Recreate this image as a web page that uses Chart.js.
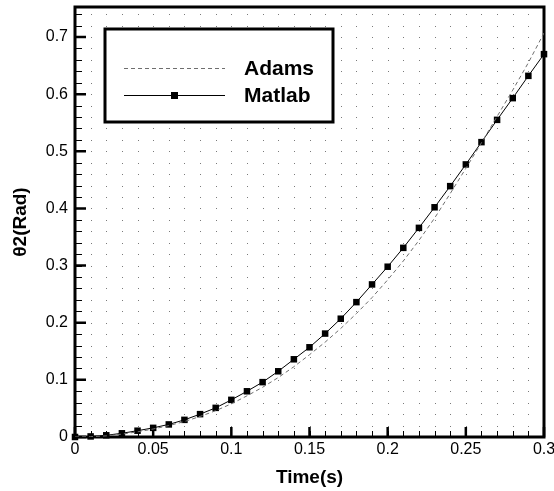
<!DOCTYPE html>
<html>
<head>
<meta charset="utf-8">
<script src="https://cdn.jsdelivr.net/npm/chart.js@4.4.1/dist/chart.umd.min.js"></script>
<style>
html, body { margin: 0; padding: 0; background: #fff; }
#wrap { width: 554px; height: 491px; }
</style>
</head>
<body>
<div id="wrap"><canvas id="c"></canvas></div>
<script>
// time samples (s)
const times = [0, 0.01, 0.02, 0.03, 0.04, 0.05, 0.06, 0.07, 0.08, 0.09, 0.1,
  0.11, 0.12, 0.13, 0.14, 0.15, 0.16, 0.17, 0.18, 0.19, 0.2,
  0.21, 0.22, 0.23, 0.24, 0.25, 0.26, 0.27, 0.28, 0.29, 0.3];
const matlab = [0, 0.001, 0.003, 0.0065, 0.011, 0.016, 0.022, 0.030, 0.040, 0.051, 0.065,
  0.080, 0.096, 0.115, 0.136, 0.157, 0.181, 0.207, 0.236, 0.267, 0.298,
  0.331, 0.366, 0.402, 0.439, 0.477, 0.516, 0.555, 0.593, 0.632, 0.670];
const adams = [0, 0.0005, 0.002, 0.005, 0.009, 0.014, 0.020, 0.027, 0.036, 0.046, 0.058,
  0.072, 0.087, 0.104, 0.123, 0.144, 0.166, 0.190, 0.216, 0.244, 0.275,
  0.308, 0.344, 0.383, 0.426, 0.470, 0.515, 0.561, 0.607, 0.655, 0.707];
const xTicks = [0, 0.05, 0.1, 0.15, 0.2, 0.25, 0.3];
const yTicks = [0, 0.1, 0.2, 0.3, 0.4, 0.5, 0.6, 0.7];
const xMinorStep = 0.01;
const yMinorStep = 0.02;

const FONT = "'Liberation Sans', Arial, sans-serif";

function toPoints(ys) {
    return times.map((t, i) => ({ x: t, y: ys[i] }));
}

// dotted grid, inward ticks and the heavy frame
const framePlugin = {
    id: 'frame',
    beforeDatasetsDraw(chart) {
        const { ctx, chartArea: a, scales: { x, y } } = chart;
        ctx.save();
        ctx.fillStyle = '#7a7a7a';
        for (let i = 1; i * xMinorStep < x.max - 1e-9; i++) {
            const px = Math.round(x.getPixelForValue(i * xMinorStep));
            for (let j = 1; j * yMinorStep < y.max; j++) {
                const py = Math.round(y.getPixelForValue(j * yMinorStep));
                if (py <= a.top + 2) continue;
                ctx.fillRect(px, py, 1, 1);
            }
        }
        ctx.strokeStyle = '#000';
        // x minor ticks
        ctx.lineWidth = 1;
        ctx.beginPath();
        for (let i = 1; i * xMinorStep < x.max - 1e-9; i++) {
            const px = Math.round(x.getPixelForValue(i * xMinorStep)) + 0.5;
            ctx.moveTo(px, a.bottom);
            ctx.lineTo(px, a.bottom - 6);
        }
        for (let j = 1; j * yMinorStep < y.max; j++) {
            const py = Math.round(y.getPixelForValue(j * yMinorStep)) + 0.5;
            ctx.moveTo(a.left, py);
            ctx.lineTo(a.left + 7, py);
        }
        ctx.stroke();
        // major ticks
        ctx.lineWidth = 2.5;
        ctx.beginPath();
        xTicks.forEach(v => {
            const px = x.getPixelForValue(v);
            ctx.moveTo(px, a.bottom);
            ctx.lineTo(px, a.bottom - 10);
        });
        yTicks.forEach(v => {
            const py = y.getPixelForValue(v);
            ctx.moveTo(a.left, py);
            ctx.lineTo(a.left + 11, py);
        });
        ctx.stroke();
        ctx.lineWidth = 3;
        ctx.strokeRect(a.left, a.top, a.right - a.left, a.bottom - a.top);
        ctx.restore();
    }
};

// boxed legend inside the plot
const legendPlugin = {
    id: 'boxLegend',
    afterDraw(chart) {
        const ctx = chart.ctx;
        const ds = chart.data.datasets;
        ctx.save();
        ctx.fillStyle = '#fff';
        ctx.fillRect(105, 29, 228, 93);
        ctx.lineWidth = 3;
        ctx.strokeStyle = '#000';
        ctx.strokeRect(105, 29, 228, 93);
        const rows = [68, 95];
        ds.forEach((d, i) => {
            const yy = rows[i] + 0.5;
            ctx.strokeStyle = d.borderColor;
            ctx.lineWidth = 1;
            ctx.setLineDash(d.borderDash || []);
            ctx.beginPath();
            ctx.moveTo(124, yy);
            ctx.lineTo(225, yy);
            ctx.stroke();
            ctx.setLineDash([]);
            if (d.pointRadius > 0) {
                ctx.fillStyle = '#000';
                ctx.fillRect(171, rows[i] - 3, 7, 7);
            }
            ctx.fillStyle = '#000';
            ctx.font = "bold 21px " + FONT;
            ctx.textBaseline = 'middle';
            ctx.textAlign = 'left';
            ctx.fillText(d.label, 244, rows[i] + 1);
        });
        ctx.restore();
    }
};

const fmt = v => String(+v.toFixed(3));

new Chart(document.getElementById('c'), {
    type: 'line',
    data: {
        datasets: [
            {
                label: 'Adams',
                data: toPoints(adams),
                borderColor: '#6e6e6e',
                borderWidth: 1,
                borderDash: [4, 3],
                pointRadius: 0,
                fill: false,
                tension: 0
            },
            {
                label: 'Matlab',
                data: toPoints(matlab),
                borderColor: '#000',
                borderWidth: 1,
                backgroundColor: '#000',
                pointStyle: 'rect',
                pointRadius: 4.6,
                pointBorderWidth: 0,
                fill: false,
                tension: 0,
                clip: false
            }
        ]
    },
    options: {
        responsive: true,
        maintainAspectRatio: false,
        animation: false,
        layout: { padding: { top: 7, right: 10, left: 0, bottom: 0 } },
        plugins: {
            legend: { display: false },
            tooltip: { enabled: false }
        },
        scales: {
            x: {
                type: 'linear',
                min: 0,
                max: 0.3,
                grid: { display: false, drawTicks: false },
                border: { display: false },
                afterBuildTicks: s => { s.ticks = xTicks.map(v => ({ value: v })); },
                afterFit: s => { s.height = 54; s.paddingLeft = 0; s.paddingRight = 0; },
                ticks: {
                    padding: 3,
                    color: '#000',
                    maxRotation: 0,
                    font: { family: FONT, size: 16 },
                    callback: fmt
                },
                title: {
                    display: true,
                    text: 'Time(s)',
                    color: '#000',
                    font: { family: FONT, size: 19, weight: 'bold' },
                    padding: { top: 0, bottom: 2 }
                }
            },
            y: {
                type: 'linear',
                min: 0,
                max: 0.7525,
                grid: { display: false, drawTicks: false },
                border: { display: false },
                afterBuildTicks: s => { s.ticks = yTicks.map(v => ({ value: v })); },
                afterFit: s => { s.width = 75; s.paddingTop = 0; s.paddingBottom = 0; },
                ticks: {
                    padding: 7,
                    color: '#000',
                    font: { family: FONT, size: 16 },
                    callback: fmt
                },
                title: {
                    display: true,
                    text: 'θ2(Rad)',
                    color: '#000',
                    font: { family: FONT, size: 19, weight: 'bold' },
                    padding: { top: 9, bottom: 0 }
                }
            }
        }
    },
    plugins: [framePlugin, legendPlugin]
});
</script>
</body>
</html>
